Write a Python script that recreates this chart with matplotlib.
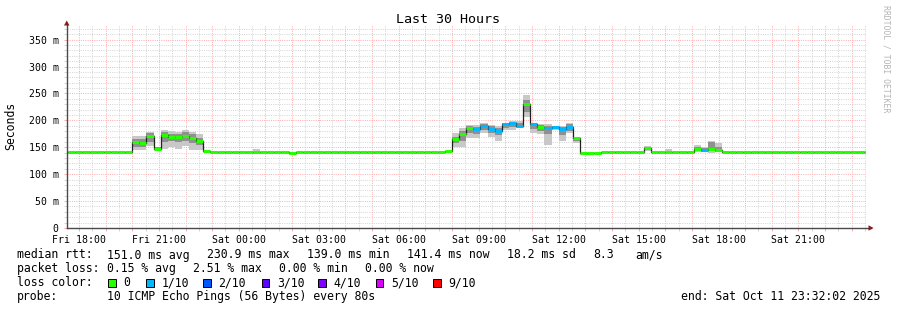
import numpy as np
import matplotlib
matplotlib.use("Agg")
import matplotlib.pyplot as plt
from matplotlib.patches import Rectangle, Polygon

W, H, DPI = 897, 310, 100
plt.rcParams['font.family'] = ['DejaVu Sans Mono', 'DejaVu Sans']

# ---------------- data ----------------
title = "Last 30 Hours"
end_label = "end: Sat Oct 11 23:32:02 2025"
window_end = "Sat 23:32"          # right edge of the graph
window_hours = 30
first_bin = "Fri 17:20"           # start of the first 16-minute bin
bin_minutes = 16

# median RTT per 16-minute bin (ms)
median_ms = [
    141, 141, 141, 141, 141, 141, 141, 141, 141, 141,
    160.6, 157.6, 171.8, 147.6, 172.5, 170.0, 170.0, 171.8, 167.0, 162.5, 143.0,
    141, 141, 141, 141, 141, 141, 141, 141, 141, 141, 141, 139,
    141, 141, 141, 141, 141, 141, 141, 141, 141, 141,
    141, 141, 141, 141, 141, 141, 141, 141, 141, 141,
    142, 144, 166, 175, 185.5, 184, 190, 184, 181, 193,
    195, 190.5, 230.9, 193, 188.6, 185.5, 188.6, 183.7, 186.8, 168,
    139, 139, 139, 141, 141, 141, 141, 141, 141, 149,
    141, 141, 141, 141, 141, 141, 147.5, 145, 146, 145,
    141, 141, 141, 141, 141, 141, 141, 141, 141, 141,
    141, 141, 141, 141, 141, 141, 141, 141, 141, 141, 141.4,
]
# loss level per bin (0 = no loss, 1 = 1/10, ...)
loss_level = [
    0, 0, 0, 0, 0, 0, 0, 0, 0, 0,
    0, 0, 0, 0, 0, 0, 0, 0, 0, 0, 0,
    0, 0, 0, 0, 0, 0, 0, 0, 0, 0, 0, 0,
    0, 0, 0, 0, 0, 0, 0, 0, 0, 0,
    0, 0, 0, 0, 0, 0, 0, 0, 0, 0,
    0, 0, 0, 0, 0, 1, 1, 1, 1, 1,
    1, 1, 0, 1, 0, 1, 1, 1, 1, 0,
    0, 0, 0, 0, 0, 0, 0, 0, 0, 0,
    0, 0, 0, 0, 0, 0, 0, 1, 0, 0,
    0, 0, 0, 0, 0, 0, 0, 0, 0, 0,
    0, 0, 0, 0, 0, 0, 0, 0, 0, 0, 0,
]

# smoke (ping spread) for bins with visible spread
smoke_bins = ["Fri 20:00", "Fri 20:16", "Fri 20:32", "Fri 20:48", "Fri 21:04", "Fri 21:20",
              "Fri 21:36", "Fri 21:52", "Fri 22:08", "Fri 22:24", "Fri 22:40", "Sat 00:32",
              "Sat 08:00", "Sat 08:16", "Sat 08:32", "Sat 08:48", "Sat 09:04", "Sat 09:20",
              "Sat 09:36", "Sat 09:52", "Sat 10:08", "Sat 10:24", "Sat 10:40", "Sat 10:56",
              "Sat 11:12", "Sat 11:28", "Sat 11:44", "Sat 12:00", "Sat 12:16", "Sat 12:32",
              "Sat 15:12", "Sat 16:00", "Sat 17:04", "Sat 17:20", "Sat 17:36", "Sat 17:52"]
smoke_outer_lo = [145, 145, 152, 146, 147, 150, 146, 152, 145, 145, 141, 141,
                  150, 151, 167, 167, 176, 170, 162, 183, 183, 185, 207, 176,
                  174, 154, 182, 161, 176, 158, 144, 141, 142, 141, 140, 141]
smoke_outer_hi = [171, 171, 179, 151, 182, 180, 178, 182, 178, 175, 144, 146,
                  176, 186, 192, 192, 195, 191, 189, 196, 198, 198, 248, 195,
                  194, 193, 190, 190, 196, 170, 153, 147, 155, 150, 162, 158]
smoke_inner_lo = [150, 150, 160, 146, 160, 162, 160, 162, 158, 155, 142, 141,
                  158, 162, 176, 175, 182, 176, 172, 186, 188, 188, 215, 184,
                  180, 175, 184, 172, 180, 162, 146, 141, 145, 142, 143, 142]
smoke_inner_hi = [165, 166, 176, 150, 178, 175, 174, 178, 174, 168, 144, 141,
                  170, 180, 190, 188, 193, 189, 186, 195, 197, 196, 238, 194,
                  192, 190, 189, 188, 193, 169, 151, 141, 150, 149, 160, 150]

loss_names = ["0", "1/10", "2/10", "3/10", "4/10", "5/10", "9/10"]
loss_colors = ["#26ff00", "#00b8ff", "#0059ff", "#5e00ff", "#7e00ff", "#dd00ff", "#ff0000"]

stats_rtt = ["median rtt:", "151.0 ms avg", "230.9 ms max", "139.0 ms min",
             "141.4 ms now", "18.2 ms sd", "8.3", "am/s"]
stats_loss = ["packet loss:", "0.15 % avg", "2.51 % max", "0.00 % min", "0.00 % now"]
probe_text = ["probe:", "10 ICMP Echo Pings (56 Bytes) every 80s"]

y_major = [0, 50, 100, 150, 200, 250, 300, 350]


def to_hours(s):
    day, hm = s.split()
    h, m = hm.split(":")
    return (24 if day == "Sat" else 0) + int(h) + int(m) / 60.0


# ---------------- figure ----------------
fig = plt.figure(figsize=(W / DPI, H / DPI), dpi=DPI)
fig.patch.set_facecolor("white")
L, R, T, B = 66.5, 866.0, 25.0, 228.0
ax = fig.add_axes([L / W, (H - B) / H, (R - L) / W, (B - T) / H])
ax.set_facecolor("white")

x_end = to_hours(window_end) + 2 / 3600.0
x_start = x_end - window_hours
ax.set_xlim(x_start, x_end)
ax.set_ylim(0, 377.3)

bw = bin_minutes / 60.0
starts = to_hours(first_bin) + bw * np.arange(len(median_ms))
med = np.asarray(median_ms, float)

# smoke
sb = np.array([to_hours(s) for s in smoke_bins])
olo, ohi = np.array(smoke_outer_lo, float), np.array(smoke_outer_hi, float)
ilo, ihi = np.array(smoke_inner_lo, float), np.array(smoke_inner_hi, float)
ax.bar(sb, ohi - olo, bottom=olo, width=bw, align="edge", color="#c8c8c8", linewidth=0, zorder=2)
ax.bar(sb, ihi - ilo, bottom=ilo, width=bw, align="edge", color="#909090", linewidth=0, zorder=3)

# median: black step line + coloured band
edges = np.append(starts, starts[-1] + bw)
ax.step(edges, np.append(med, med[-1]), where="post", color="#202020", lw=0.9, zorder=4)
cols = [loss_colors[i] for i in loss_level]
ax.hlines(med, starts, starts + bw, colors=cols, lw=2.2, zorder=5, capstyle="butt")

# grid
xmaj = np.arange(np.ceil(x_start), x_end, 1.0)
xmin = np.arange(np.ceil(x_start * 2) / 2, x_end, 0.5)
ax.set_xticks(xmaj)
ax.set_xticks(xmin, minor=True)
xl = []
for h in xmaj:
    if int(h) % 3 == 0:
        day = "Fri" if h < 24 else "Sat"
        xl.append(f"{day} {int(h) % 24:02d}:00")
    else:
        xl.append("")
ax.set_xticklabels(xl)
ax.set_yticks(y_major)
ax.set_yticks(np.arange(0, 377, 10), minor=True)
ax.set_yticklabels(["0" if v == 0 else f"{v} m" for v in y_major])
ax.set_axisbelow(True)
dots = (0, (1, 1.3))
ax.grid(which="minor", color="#d4d4d4", linestyle=dots, lw=0.7)
ax.grid(which="major", color="#ffaaaa", linestyle=dots, lw=0.7)
ax.tick_params(which="major", length=2, width=0.72, color="#ffaaaa", labelsize=7.1, pad=3)
ax.tick_params(which="minor", length=2, width=0.72, color="#d4d4d4")
ax.tick_params(axis="y", pad=3.5)

for s in ax.spines.values():
    s.set_visible(False)
axc = "#4a4a4a"
ax.plot([0, 1.006], [0, 0], transform=ax.transAxes, color=axc, lw=1.0, clip_on=False, zorder=6)
ax.plot([0, 0], [0, 1.0], transform=ax.transAxes, color=axc, lw=1.0, clip_on=False, zorder=6)
# arrows
def fig_tri(pts):
    fig.patches.append(Polygon([(x / W, 1 - y / H) for x, y in pts], closed=True,
                               transform=fig.transFigure, facecolor="#8b1a1a", edgecolor="none"))
fig_tri([(64.0, 25.5), (69.5, 25.5), (66.75, 20.5)])
fig_tri([(868.5, 225.3), (868.5, 230.7), (873.5, 228.0)])

# texts
fig.text(448 / W, 1 - 19.5 / H, title, ha="center", va="center", fontsize=9.6)
fig.text(11 / W, 1 - 126 / H, "Seconds", rotation=90, ha="center", va="center", fontsize=8.3)
fig.text(886 / W, 1 - 59 / H, "RRDTOOL / TOBI OETIKER", rotation=270, ha="center",
         va="center", fontsize=5.9, color="#b4b4b4")

fs = 8.3
rtt_x = [16.7, 107.3, 207.3, 306.7, 407.3, 507.3, 593.3, 635.7]
for x, t in zip(rtt_x, stats_rtt):
    fig.text(x / W, 1 - 255 / H, t, ha="left", va="center", fontsize=fs)
loss_x = [16.7, 107.3, 193.3, 279.3, 365.3]
for x, t in zip(loss_x, stats_loss):
    fig.text(x / W, 1 - 268.5 / H, t, ha="left", va="center", fontsize=fs)
fig.text(16.7 / W, 1 - 282.5 / H, "loss color:", ha="left", va="center", fontsize=fs)
sw_x = [108.3, 146.0, 203.3, 261.7, 318.3, 375.7, 433.3]
for x, name, c in zip(sw_x, loss_names, loss_colors):
    fig.patches.append(Rectangle((x / W, 1 - 286.5 / H), 7.5 / W, 7.5 / H, transform=fig.transFigure,
                                 facecolor=c, edgecolor="black", lw=0.7))
    fig.text((x + 15.3) / W, 1 - 282.5 / H, name, ha="left", va="center", fontsize=fs)
fig.text(16.7 / W, 1 - 296.5 / H, probe_text[0], ha="left", va="center", fontsize=fs)
fig.text(107.3 / W, 1 - 296.5 / H, probe_text[1], ha="left", va="center", fontsize=fs)
fig.text(880.5 / W, 1 - 296.5 / H, end_label, ha="right", va="center", fontsize=fs)

fig.savefig("out.png", dpi=DPI, facecolor="white")
